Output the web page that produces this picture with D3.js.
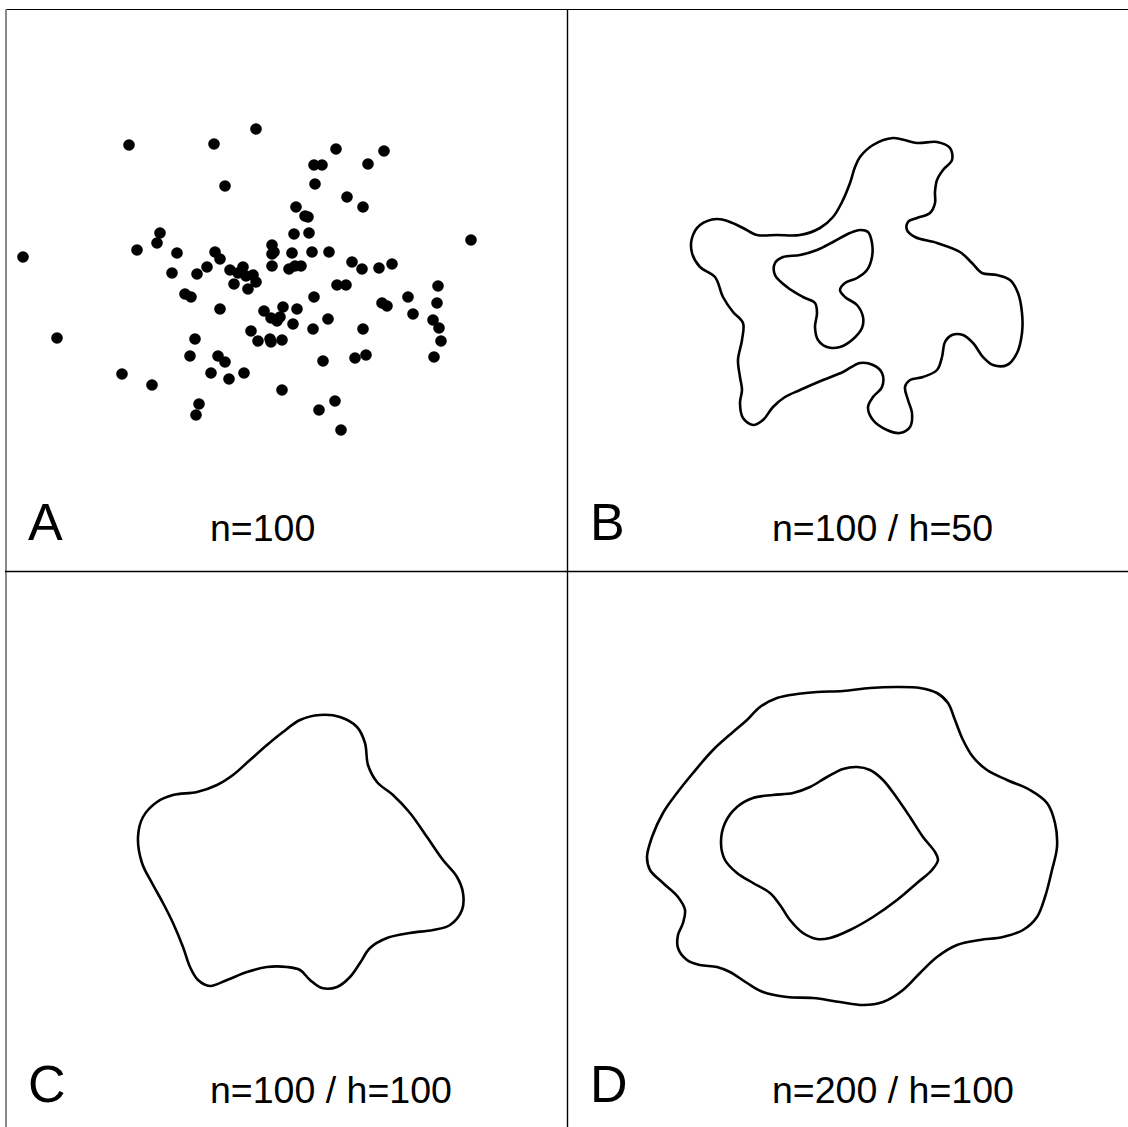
<!DOCTYPE html>
<html>
<head>
<meta charset="utf-8">
<script src="https://cdn.jsdelivr.net/npm/d3@7"></script>
<style>
  html, body { margin: 0; padding: 0; background: #fff; }
  svg { display: block; }
  text { font-family: "Liberation Sans", Arial, Helvetica, sans-serif; fill: #000; }
</style>
</head>
<body>
<svg id="chart" width="1128" height="1127"></svg>
<script>
// ---------------- DATA (panel-local data units, 0..562) ----------------
// Panel A: the 100 sampled points
const pointsX = [251,124,209,220,155,152,132,18,172,210,215,167,192,202,225,238,233,248,251,229,
                 243,267,267,269,267,180,186,215,259,266,272,246,52,190,253,265,266,277,331,379,
                 309,317,363,310,342,358,291,300,303,289,304,287,307,324,284,290,296,347,357,374,
                 387,466,332,341,309,403,433,432,377,382,408,428,434,436,278,292,288,308,323,358,
                 275,429,185,213,220,239,206,224,318,350,361,117,147,277,194,191,330,314,336,241];
const pointsY = [120,136,135,177,224,234,241,248,244,243,250,264,265,258,261,258,264,266,273,275,
                 280,236,245,243,257,285,288,300,302,309,312,322,329,330,332,330,333,331,140,142,
                 156,156,155,175,188,198,198,207,208,225,224,244,243,243,260,257,257,253,260,259,
                 255,231,276,276,288,288,277,294,294,297,305,311,319,332,298,300,315,320,310,320,
                 308,348,347,347,353,364,364,370,352,349,346,365,376,381,395,406,392,401,421,267];

// Panel B (n=100, h=50): two contour rings
const contourB1X = [293,306,326,350,370,383,385,376,370,368,368,363,350,341,340,348,370,393,405,415,
                    430,443,451,455,455,450,440,426,416,406,396,385,378,375,370,356,343,338,341,345,
                    343,333,320,306,301,306,315,315,306,293,276,256,233,218,206,196,186,176,173,175,
                    173,171,175,176,166,156,148,133,125,125,133,150,163,176,190,210,233,253,266,275,
                    283,288];
const contourB1Y = [148,136,129,134,133,139,151,161,171,183,194,204,209,213,221,228,234,243,254,264,
                    266,271,284,304,324,344,356,356,348,334,326,326,333,348,361,368,371,378,391,404,
                    418,424,421,411,398,388,378,364,356,354,363,371,381,388,398,411,416,409,394,381,
                    368,351,331,314,303,288,268,258,244,229,216,210,213,219,226,226,226,219,208,193,
                    174,158];
const contourB2X = [293,301,305,305,300,290,278,273,278,290,296,295,285,273,260,251,248,250,248,236,
                    220,208,208,216,233,250,266,283];
const contourB2Y = [221,223,234,248,261,269,274,281,288,296,308,319,331,338,338,331,318,304,294,288,
                    278,266,254,248,246,241,233,224];

// Panel C (n=100, h=100): one contour ring
const contourC1X = [315,335,352,360,363,372,388,405,422,438,452,458,457,445,428,405,382,365,355,345,
                    332,317,305,295,282,262,242,222,205,193,185,178,168,158,147,137,133,138,152,168,
                    192,212,228,245,262,278,295];
const contourC1Y = [144,146,156,172,194,211,224,242,266,289,306,322,339,354,359,362,367,377,392,406,
                    416,417,409,399,396,396,401,409,415,409,396,376,352,332,312,292,266,246,231,224,
                    221,214,204,189,174,161,149];

// Panel D (n=200, h=100): two contour rings
const contourD1X = [250,276,303,330,353,370,381,388,396,406,420,440,463,480,488,490,485,478,470,456,
                    436,413,390,370,353,336,316,296,273,246,220,196,180,163,150,133,120,111,111,116,
                    118,111,96,83,80,85,96,110,126,146,166,180,193,210,230];
const contourD1Y = [121,120,117,116,117,122,132,149,169,186,199,209,219,232,252,276,299,326,346,359,
                    366,369,374,386,402,419,431,434,431,427,426,421,412,401,396,394,389,377,364,352,
                    339,326,312,299,286,266,242,222,202,179,161,149,136,127,123];
const contourD2X = [290,303,316,330,343,356,368,371,365,350,330,306,283,263,250,236,223,213,203,186,
                    170,158,154,158,170,186,206,226,243,260,276];
const contourD2Y = [196,199,209,227,246,266,281,289,299,312,329,346,359,367,368,362,349,334,322,312,
                    302,289,272,252,236,227,224,222,216,206,198];

// Panel texts
const panelLetters = ["A", "B", "C", "D"];
const panelCaptions = ["n=100", "n=100 / h=50", "n=100 / h=100", "n=200 / h=100"];

// ---------------- LAYOUT ----------------
const W = 1128, H = 1127;
const panelSize = 562;
const originX = [5, 567], originY = [9, 571];

const svg = d3.select("#chart");
svg.append("rect").attr("width", W).attr("height", H).attr("fill", "#fff");

const x = d3.scaleLinear().domain([0, 562]).range([0, panelSize]);
const y = d3.scaleLinear().domain([0, 562]).range([0, panelSize]);

const zip = (xs, ys) => xs.map((v, i) => [v, ys[i]]);

const ring = d3.line()
  .x(d => x(d[0])).y(d => y(d[1]))
  .curve(d3.curveCatmullRomClosed.alpha(0.5));

const panels = [
  { rings: [], points: zip(pointsX, pointsY) },
  { rings: [zip(contourB1X, contourB1Y), zip(contourB2X, contourB2Y)] },
  { rings: [zip(contourC1X, contourC1Y)] },
  { rings: [zip(contourD1X, contourD1Y), zip(contourD2X, contourD2Y)] }
];

panels.forEach((p, i) => {
  const col = i % 2, row = Math.floor(i / 2);
  const g = svg.append("g").attr("transform", `translate(${originX[col]},${originY[row]})`);

  if (p.points) {
    g.selectAll("circle").data(p.points).enter().append("circle")
      .attr("cx", d => x(d[0])).attr("cy", d => y(d[1]))
      .attr("r", 5.8).attr("fill", "#000");
  }
  g.selectAll("path.ring").data(p.rings).enter().append("path")
    .attr("class", "ring")
    .attr("d", ring)
    .attr("fill", "none").attr("stroke", "#000").attr("stroke-width", 2.6)
    .attr("stroke-linejoin", "round");

  g.append("text")
    .attr("x", 23).attr("y", 531)
    .attr("font-size", 52)
    .text(panelLetters[i]);

  g.append("text")
    .attr("x", 205).attr("y", 532)
    .attr("font-size", 37.5)
    .text(panelCaptions[i]);
});

// frame lines
svg.append("line").attr("x1", 5).attr("x2", W).attr("y1", 9.5).attr("y2", 9.5)
  .attr("stroke", "#000").attr("stroke-width", 1.2);
svg.append("line").attr("x1", 6).attr("x2", 6).attr("y1", 9).attr("y2", H)
  .attr("stroke", "#888").attr("stroke-width", 2);
svg.append("line").attr("x1", 567.5).attr("x2", 567.5).attr("y1", 9).attr("y2", H)
  .attr("stroke", "#000").attr("stroke-width", 1.4);
svg.append("line").attr("x1", 5).attr("x2", W).attr("y1", 571.5).attr("y2", 571.5)
  .attr("stroke", "#000").attr("stroke-width", 1.6);
</script>
</body>
</html>
